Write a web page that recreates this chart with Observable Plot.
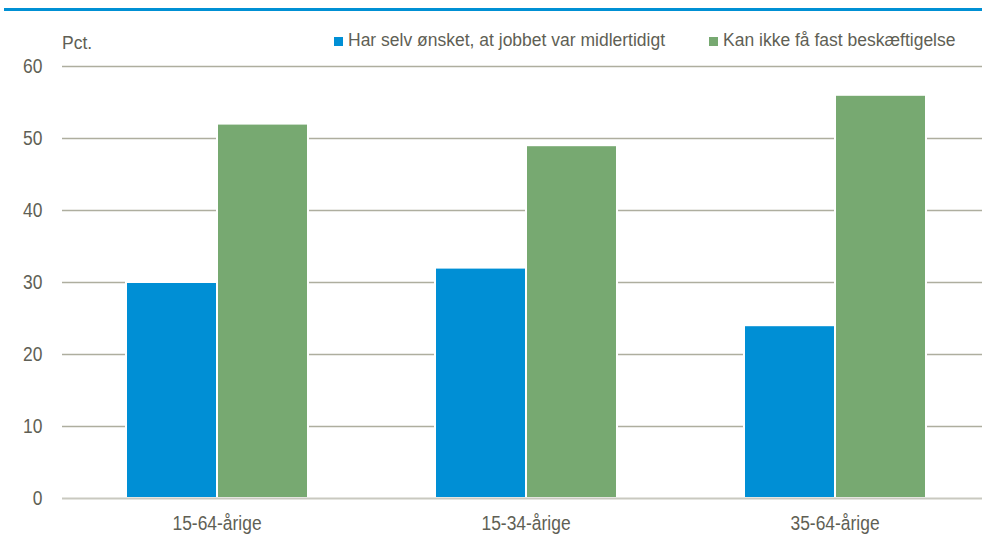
<!DOCTYPE html>
<html>
<head>
<meta charset="utf-8">
<script src="https://cdn.jsdelivr.net/npm/d3@7"></script>
<script src="https://cdn.jsdelivr.net/npm/@observablehq/plot@0.6"></script>
<style>
  html, body { margin: 0; padding: 0; background: #fff; overflow: hidden; }
  body { width: 982px; height: 535px; position: relative; font-family: "Liberation Sans", Arial, sans-serif; color: #5f5f55; }
  #topline { position: absolute; left: 4px; right: 0; top: 8px; height: 3px; background: #0090d4; }
  #pct { position: absolute; left: 62px; top: 33px; font-size: 17.5px; line-height: 20px; }
  #legend { position: absolute; top: 30px; left: 0; font-size: 17.5px; line-height: 20px; }
  .item { position: absolute; white-space: nowrap; }
  .sw { position: absolute; top: 7px; width: 9px; height: 9px; }
  .lab { position: absolute; left: 14px; top: 0; }
  #chart { position: absolute; left: 0; top: 0; }
</style>
</head>
<body>
<div id="topline"></div>
<div id="pct">Pct.</div>
<div id="legend"></div>
<div id="chart"></div>
<script>
const categories = ["15-64-årige", "15-34-årige", "35-64-årige"];
const series = ["Har selv ønsket, at jobbet var midlertidigt", "Kan ikke få fast beskæftigelse"];
const selvOnsket = [30, 32, 24];
const kanIkkeFast = [52, 49, 56];
const yTicks = [0, 10, 20, 30, 40, 50, 60];
const colors = ["#008fd5", "#77a971"];

const data = [];
categories.forEach((c, i) => {
  data.push({cat: c, series: series[0], value: selvOnsket[i]});
  data.push({cat: c, series: series[1], value: kanIkkeFast[i]});
});

// legend
const legend = document.getElementById("legend");
const legendX = [334, 709];
series.forEach((s, i) => {
  const it = document.createElement("div");
  it.className = "item";
  it.style.left = legendX[i] + "px";
  it.innerHTML = `<span class="sw" style="background:${colors[i]}"></span><span class="lab">${s}</span>`;
  legend.appendChild(it);
});

const chart = Plot.plot({
  width: 982,
  height: 535,
  marginTop: 66,
  marginBottom: 37,
  marginLeft: 62,
  marginRight: 0,
  style: {fontFamily: "'Liberation Sans', Arial, sans-serif", fontSize: "20.5px", color: "#5f5f55", background: "transparent"},
  fx: {domain: categories, range: [61.7, 989.6], padding: 0, label: null, axis: "bottom", tickSize: 0, tickPadding: 17},
  x: {domain: series, paddingInner: 0, paddingOuter: 0.694, axis: null},
  y: {domain: [0, 60], ticks: yTicks, tickSize: 0, tickPadding: 20, label: null, axis: "left"},
  color: {domain: series, range: colors},
  marks: [
    Plot.ruleY(yTicks.filter(d => d > 0), {stroke: "#aeae9f", strokeWidth: 1.3}),
    Plot.barY(data, {fx: "cat", x: "series", y: "value", fill: "series", stroke: "white", strokeWidth: 2}),
    Plot.ruleY([0], {stroke: "#c9c9c0", strokeWidth: 2})
  ]
});
document.getElementById("chart").appendChild(chart);
// condense axis text (reference uses a narrow face)
chart.querySelectorAll("text").forEach(t => {
  const w = t.getComputedTextLength();
  if (w > 0) {
    t.setAttribute("textLength", (w * 0.85).toFixed(2));
    t.setAttribute("lengthAdjust", "spacingAndGlyphs");
  }
});
</script>
</body>
</html>
